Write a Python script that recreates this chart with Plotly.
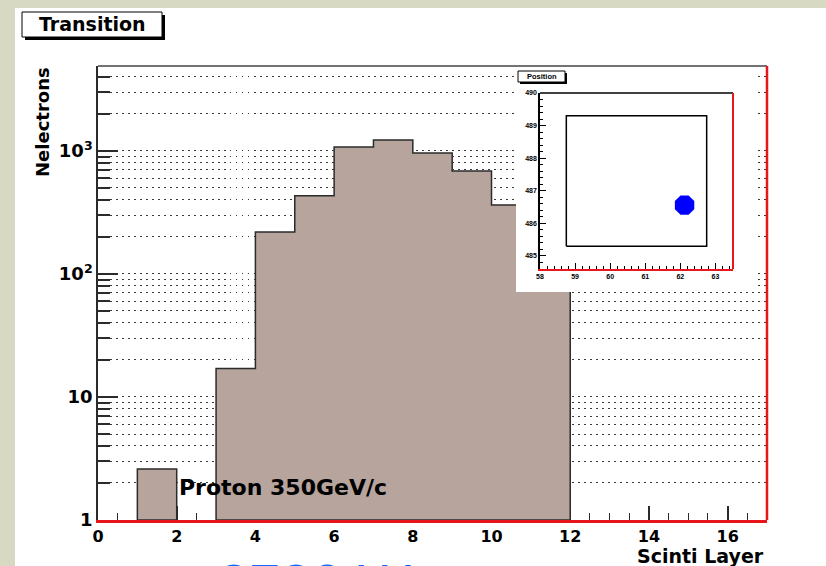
import plotly.graph_objects as go

# ---- histogram data: electrons per scintillator layer (bins of width 1) ----
bin_edges = list(range(0, 18))
counts = [0, 2.6, 0, 17, 219, 431, 1078, 1229, 963, 688, 364, 150, 0, 0, 0, 0, 0]

x_ticks = [0, 2, 4, 6, 8, 10, 12, 14, 16]
y_ticks = [1, 10, 100, 1000]
y_ticklabels = ["1", "10", "10<sup>2</sup>", "10<sup>3</sup>"]
y_max = 4900

# ---- inset: beam position ----
region_x = [58.75, 62.75]
region_y = [485.3, 489.3]
hit_x = [62.12]
hit_y = [486.56]
inset_xticks = [58, 59, 60, 61, 62, 63]
inset_yticks = [485, 486, 487, 488, 489, 490]
inset_xrange = [58, 63.5]
inset_yrange = [484.6, 490]

# ---- page geometry ----
W, H = 826, 566
ML, MR, MT, MB = 98, 59, 66, 46
PW, PH = W - ML - MR, H - MT - MB


def px_x(px):
    return (px - ML) / PW


def px_y(py):
    return (H - MB - py) / PH


BOLD = dict(family="DejaVu Sans", color="black", weight="bold")
SMALL = dict(family="Liberation Sans", size=7, color="black", weight="bold")
FILL = "#b6a49d"
EDGE = "#2b2b2b"
RED = "#e8161b"
GRID = "#3a3a3a"

# step outline of the histogram, one closed polygon per run of filled bins
hx, hy = [], []
i = 0
n = len(counts)
while i < n:
    if counts[i] > 0:
        j = i
        px, py = [bin_edges[i]], [1]
        while j < n and counts[j] > 0:
            px += [bin_edges[j], bin_edges[j + 1]]
            py += [counts[j], counts[j]]
            j += 1
        px += [bin_edges[j], bin_edges[i]]
        py += [1, 1]
        hx += px + [None]
        hy += py + [None]
        i = j
    else:
        i += 1

fig = go.Figure()
fig.add_trace(go.Scatter(
    x=hx, y=hy, mode="lines", fill="toself", fillcolor=FILL,
    line=dict(color=EDGE, width=1.5), hoverinfo="skip", showlegend=False,
))

# white pad holding the inset (covers the main frame underneath)
fig.add_trace(go.Scatter(x=[], y=[], xaxis="x2", yaxis="y2",
                         hoverinfo="skip", showlegend=False))

# inset contents
rect_x = [region_x[0], region_x[1], region_x[1], region_x[0], region_x[0]]
rect_y = [region_y[0], region_y[0], region_y[1], region_y[1], region_y[0]]
fig.add_trace(go.Scatter(x=rect_x, y=rect_y, mode="lines", xaxis="x3", yaxis="y3",
                         line=dict(color="black", width=1.5),
                         hoverinfo="skip", showlegend=False))
fig.add_trace(go.Scatter(x=hit_x, y=hit_y, mode="markers", xaxis="x3", yaxis="y3",
                         marker=dict(size=21, color="#0000ff", symbol="octagon",
                                     line=dict(width=0)),
                         hoverinfo="skip", showlegend=False))

grid_dash = "1.5px,4.5px"
minor_y = [m * 10 ** d for d in range(0, 4) for m in range(2, 10) if m * 10 ** d < y_max]

fig.update_layout(
    width=W, height=H,
    margin=dict(l=ML, r=MR, t=MT, b=MB, pad=0),
    paper_bgcolor="#d7d9c3",
    plot_bgcolor="white",
    showlegend=False,
    xaxis=dict(
        range=[0, 17], domain=[0, 1], anchor="y",
        tickvals=x_ticks, ticks="inside", ticklen=14, tickwidth=1.5, tickcolor=EDGE,
        minor=dict(dtick=0.5, tick0=0, ticks="inside", ticklen=7, tickwidth=1.2,
                   tickcolor=EDGE),
        showgrid=False, zeroline=False,
        showline=True, linecolor=RED, linewidth=2.5,
        layer="below traces",
        tickfont=dict(size=16, **BOLD),
    ),
    yaxis=dict(
        type="log", range=[0, 3.69], domain=[0, 1], anchor="x",
        tickvals=y_ticks, ticktext=y_ticklabels,
        ticks="inside", ticklen=20, tickwidth=1.5, tickcolor=EDGE,
        showgrid=True, gridcolor=GRID, gridwidth=1, griddash=grid_dash,
        minor=dict(tickvals=minor_y, ticks="inside", ticklen=12, tickwidth=1.5,
                   tickcolor=EDGE, showgrid=True, gridcolor=GRID, gridwidth=1,
                   griddash=grid_dash),
        zeroline=False,
        showline=True, linecolor=EDGE, linewidth=1.5,
        layer="below traces",
        tickfont=dict(size=18, **BOLD),
    ),
    xaxis2=dict(domain=[px_x(516), px_x(755)], anchor="y2", range=[0, 1],
                visible=False, fixedrange=True),
    yaxis2=dict(domain=[px_y(292), px_y(66)], anchor="x2", range=[0, 1],
                visible=False, fixedrange=True),
    xaxis3=dict(
        domain=[px_x(540), px_x(733)], anchor="y3", range=inset_xrange,
        tickvals=inset_xticks, ticks="inside", ticklen=6, tickwidth=1, tickcolor="black",
        minor=dict(dtick=0.2, tick0=58, ticks="inside", ticklen=3, tickwidth=1,
                   tickcolor="black"),
        showgrid=False, zeroline=False,
        showline=True, linecolor=RED, linewidth=2,
        tickfont=SMALL,
    ),
    yaxis3=dict(
        domain=[px_y(269), px_y(93)], anchor="x3", range=inset_yrange,
        tickvals=inset_yticks, ticks="inside", ticklen=6, tickwidth=1, tickcolor="black",
        minor=dict(dtick=0.2, tick0=485, ticks="inside", ticklen=3, tickwidth=1,
                   tickcolor="black"),
        showgrid=False, zeroline=False,
        showline=True, linecolor="black", linewidth=1.5,
        tickfont=SMALL,
    ),
)

shapes = [
    # white canvas over the page background
    dict(type="rect", xref="paper", yref="paper", layer="below",
         x0=px_x(15), x1=px_x(W + 5), y0=px_y(H + 5), y1=px_y(8),
         fillcolor="white", line=dict(width=0)),
    # frame: top edge and red right edge
    dict(type="line", xref="paper", yref="paper", x0=0, x1=1, y0=1, y1=1,
         line=dict(color="#444", width=1.5)),
    dict(type="line", xref="paper", yref="paper", x0=1, x1=1, y0=0, y1=1,
         line=dict(color=RED, width=2.5)),
    # inset frame: top edge and red right edge
    dict(type="line", xref="x3 domain", yref="y3 domain", x0=0, x1=1, y0=1, y1=1,
         line=dict(color="black", width=1.5)),
    dict(type="line", xref="x3 domain", yref="y3 domain", x0=1, x1=1, y0=0, y1=1,
         line=dict(color=RED, width=2)),
    # title box with drop shadow
    dict(type="rect", xref="paper", yref="paper",
         x0=px_x(25), x1=px_x(165), y0=px_y(40), y1=px_y(15),
         fillcolor="black", line=dict(width=0)),
    dict(type="rect", xref="paper", yref="paper",
         x0=px_x(22), x1=px_x(162), y0=px_y(37), y1=px_y(12),
         fillcolor="white", line=dict(color="black", width=1)),
    # inset title box with drop shadow
    dict(type="rect", xref="paper", yref="paper",
         x0=px_x(520), x1=px_x(567), y0=px_y(84), y1=px_y(73),
         fillcolor="black", line=dict(width=0)),
    dict(type="rect", xref="paper", yref="paper",
         x0=px_x(518), x1=px_x(565), y0=px_y(82), y1=px_y(71),
         fillcolor="white", line=dict(color="black", width=1)),
]
fig.update_layout(shapes=shapes)

annotations = [
    dict(text="Transition", x=px_x(92), y=px_y(24.5), xref="paper", yref="paper",
         xanchor="center", yanchor="middle", showarrow=False, font=dict(size=19, **BOLD)),
    dict(text="Position", x=px_x(541.5), y=px_y(76.5), xref="paper", yref="paper",
         xanchor="center", yanchor="middle", showarrow=False,
         font=dict(family="Liberation Sans", size=7.5, color="black", weight="bold")),
    dict(text="Proton 350GeV/c", x=px_x(177), y=px_y(487), xref="paper", yref="paper",
         xanchor="left", yanchor="middle", showarrow=False, font=dict(size=22, **BOLD)),
    dict(text="Nelectrons", x=px_x(43), y=px_y(122), xref="paper", yref="paper",
         xanchor="center", yanchor="middle", textangle=-90, showarrow=False,
         font=dict(size=18, **BOLD)),
    dict(text="Scinti Layer", x=px_x(766), y=px_y(556), xref="paper", yref="paper",
         xanchor="right", yanchor="middle", showarrow=False, font=dict(size=19, **BOLD)),
    dict(text="3730 W", x=px_x(216), y=px_y(550), xref="paper", yref="paper",
         xanchor="left", yanchor="top", showarrow=False,
         font=dict(family="Liberation Sans", size=56, color="#1769ff")),
]
fig.update_layout(annotations=annotations)

fig.write_html("out.html")
